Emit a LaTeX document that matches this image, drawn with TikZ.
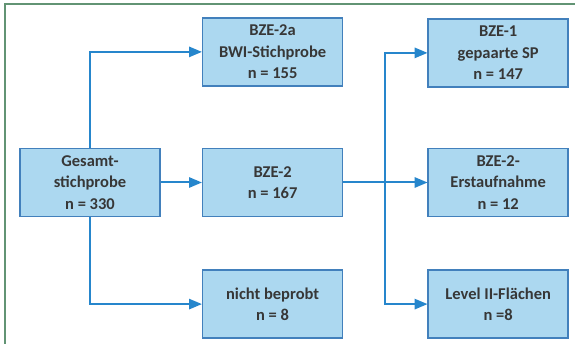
\documentclass[tikz,border=0pt]{standalone}
\usepackage{fontspec}
\setmainfont{Carlito}
\usetikzlibrary{positioning}
\usetikzlibrary{arrows}
\definecolor{boxfill}{RGB}{172,216,240}
\definecolor{boxline}{RGB}{66,128,188}
\definecolor{arrblue}{RGB}{38,134,204}
\definecolor{framegreen}{RGB}{98,148,116}
\definecolor{textgray}{RGB}{55,55,55}

\begin{document}
\begin{tikzpicture}[x=1pt,y=1pt,
  every node/.style = {align=center},
  probe/.style = {draw=boxline, line width=1.6pt, fill=boxfill, text=textgray,
    minimum width=140pt, minimum height=68pt, inner sep=0pt,
    font=\fontsize{16.5}{21.5}\selectfont\bfseries},
  arr/.style = {draw=arrblue, line width=2pt, -triangle 45}]

\useasboundingbox (0,0) rectangle (575,344);
\draw[framegreen, line width=2pt] (5,0) -- (5,340) -- (575,340);

\node[probe] (gesamt) at (90,161.5) {Gesamt-\\stichprobe\\n = 330};
\node[probe, right=41pt of gesamt] (bze2) {BZE-2\\n = 167};
\node[probe, above=61pt of bze2] (bze2a) {BZE-2a\\BWI-Stichprobe\\n = 155};
\node[probe, below=52pt of bze2] (nicht) {nicht beprobt\\n = 8};
\node[probe, right=84pt of bze2] (erst) {BZE-2-\\Erstaufnahme\\n = 12};
\node[probe, above=60pt of erst] (bze1) {BZE-1\\gepaarte SP\\n = 147};
\node[probe, below=52pt of erst] (level) {Level II-Fl\"achen\\n =8};
\coordinate[right=42pt of bze2.east] (split);

\draw[arr] (gesamt.north) |- (bze2a.west);
\draw[arr] (gesamt) -- (bze2);
\draw[arr] (gesamt.south) |- (nicht.west);
\draw[arr] (bze2) -- (erst);
\draw[arr] (split) |- (bze1.west);
\draw[arr] (split) |- (level.west);
\end{tikzpicture}
\end{document}
